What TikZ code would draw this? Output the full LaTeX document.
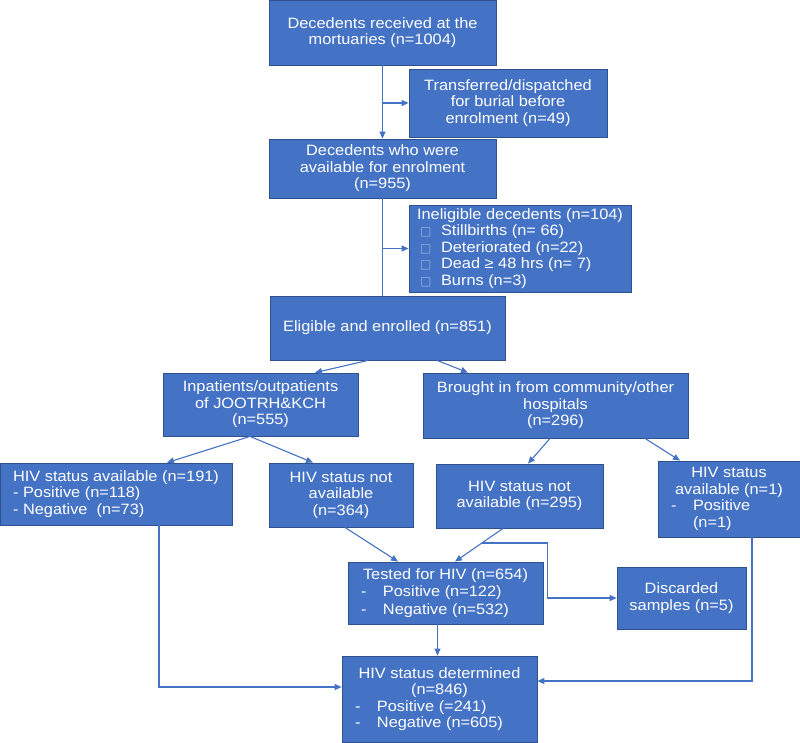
\documentclass[tikz,border=0pt]{standalone}
\usepackage{fontspec}
\setmainfont{Liberation Sans}[FakeStretch=1.09]
\newfontfamily\symfont{DejaVu Sans}
\usetikzlibrary{arrows.meta}
\definecolor{boxblue}{HTML}{4472C4}
\definecolor{edgeblue}{HTML}{2F528F}
\newcommand{\dashline}[2]{\makebox[#1][l]{\makebox[22pt][l]{-}#2}}
\newcommand{\sqbullet}{\makebox[24pt][l]{\hspace{3pt}{\symfont\fontsize{12}{12}\selectfont\color{white!45!boxblue}□}}}
\begin{document}
\begin{tikzpicture}[x=1pt, y=-1pt,
    flowbox/.style={draw=edgeblue, line width=0.8pt, fill=boxblue, text=white, inner sep=0pt, font=\fontsize{15}{16.5}\selectfont},
    flowline/.style={draw=boxblue, line width=1.1pt},
    flowarrow/.style={flowline, -{Triangle[length=7pt,width=6pt]}}]
    \useasboundingbox (0,0) rectangle (800,742);
    \node[flowbox, minimum width=227pt, minimum height=65pt, align=center] (received) at (382.5,32.5) {Decedents received at the\\mortuaries (n=1004)};
    \node[flowbox, minimum width=198pt, minimum height=68pt, align=center] (transferred) at (508,103) {Transferred/dispatched\\for burial before\\enrolment (n=49)};
    \node[flowbox, minimum width=227pt, minimum height=59pt, align=center] (available) at (382.5,168.5) {Decedents who were\\available for enrolment\\(n=955)};
    \node[flowbox, minimum width=222pt, minimum height=87pt, align=left] (ineligible) at (520,248.5) {Ineligible decedents (n=104)\\\sqbullet Stillbirths (n= 66)\\\sqbullet Deteriorated (n=22)\\\sqbullet Dead ≥ 48 hrs (n= 7)\\\sqbullet Burns (n=3)};
    \node[flowbox, minimum width=235pt, minimum height=64pt] (enrolled) at (387.5,328) {Eligible and enrolled (n=851)};
    \node[flowbox, minimum width=195pt, minimum height=63pt, align=center] (inpatients) at (260.5,404.5) {Inpatients/outpatients\\of JOOTRH\&KCH\\(n=555)};
    \node[flowbox, minimum width=265pt, minimum height=65pt, align=center] (community) at (555.5,405.5) {Brought in from community/other\\hospitals\\(n=296)};
    \node[flowbox, minimum width=232pt, minimum height=62pt, align=left] (inknown) at (116,494) {HIV status available (n=191)\\- Positive (n=118)\\- Negative\ \ (n=73)};
    \node[flowbox, minimum width=144pt, minimum height=64pt, align=center] (inunknown) at (341,495) {HIV status not\\available\\(n=364)};
    \node[flowbox, minimum width=167pt, minimum height=64pt, align=center] (comunknown) at (519.5,496) {HIV status not\\available (n=295)};
    \node[flowbox, minimum width=142pt, minimum height=76pt, align=center] (comknown) at (729,499) {HIV status\\available (n=1)\\\dashline{116pt}{Positive}\\\makebox[116pt][l]{\hspace{22pt}(n=1)}};
    \node[flowbox, minimum width=195pt, minimum height=62pt, align=center, font=\fontsize{15}{17.7}\selectfont] (tested) at (445.5,593) {Tested for HIV (n=654)\\\dashline{169pt}{Positive (n=122)}\\\dashline{169pt}{Negative (n=532)}};
    \node[flowbox, minimum width=129pt, minimum height=62pt, align=center] (discarded) at (681.5,598) {Discarded\\samples (n=5)};
    \node[flowbox, minimum width=195pt, minimum height=86pt, align=center] (determined) at (439.5,699) {HIV status determined\\(n=846)\\\dashline{169pt}{Positive (=241)}\\\dashline{169pt}{Negative (n=605)}};
    \draw[flowarrow] (received.south) -- (available.north);
    \draw[flowarrow] (received.south |- transferred.west) -- (transferred.west);
    \draw[flowline] (available.south) -- (available.south |- enrolled.north);
    \draw[flowarrow] (available.south |- ineligible.west) -- (ineligible.west);
    \draw[flowarrow] ([xshift=-19.5pt]enrolled.south) -- ([xshift=54.5pt]inpatients.north);
    \draw[flowarrow] ([xshift=49.5pt]enrolled.south) -- ([xshift=-87.5pt]community.north);
    \draw[flowarrow] ([xshift=-10.5pt]inpatients.south) -- ([xshift=51pt]inknown.north);
    \draw[flowarrow] ([xshift=-10.5pt]inpatients.south) -- ([xshift=-28pt]inunknown.north);
    \draw[flowarrow] ([xshift=-5.5pt]community.south) -- ([xshift=8.5pt]comunknown.north);
    \draw[flowarrow] ([xshift=89.5pt]community.south) -- ([xshift=-49pt]comknown.north);
    \draw[flowarrow] ([xshift=4pt]inunknown.south) -- ([xshift=-47.5pt]tested.north);
    \draw[flowarrow] ([xshift=-16.5pt]comunknown.south) -- coordinate[pos=0.44] (split) ([xshift=9.5pt]tested.north);
    \draw[flowarrow] (split) -- ++(66,0) |- (discarded.west);
    \draw[flowarrow] ([xshift=-8pt]tested.south) -- ([xshift=-8pt]tested.south |- determined.north);
    \draw[flowarrow] ([xshift=43pt]inknown.south) |- ([yshift=12pt]determined.west);
    \draw[flowarrow] ([xshift=23pt]comknown.south) |- ([yshift=18pt]determined.east);
\end{tikzpicture}
\end{document}
